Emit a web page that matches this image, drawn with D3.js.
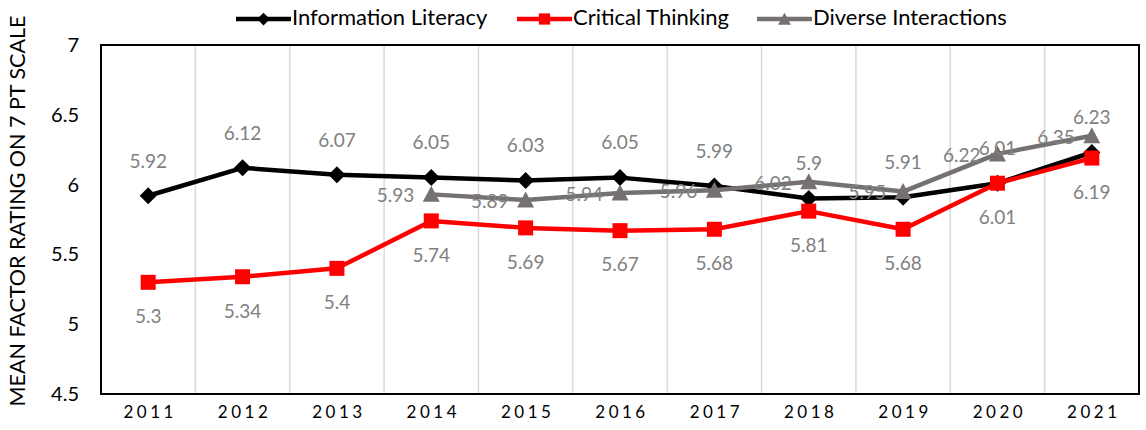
<!DOCTYPE html>
<html>
<head>
<meta charset="utf-8">
<script src="https://cdn.jsdelivr.net/npm/d3@7"></script>
<style>
  body { margin: 0; background: #fff; }
  svg { font-family: Lato, "Open Sans", sans-serif; }
</style>
</head>
<body>
<svg id="chart" width="1146" height="430"></svg>
<script>
// chart data
var years = ["2011","2012","2013","2014","2015","2016","2017","2018","2019","2020","2021"];
var infoLiteracy = [5.92, 6.12, 6.07, 6.05, 6.03, 6.05, 5.99, 5.90, 5.91, 6.01, 6.23];
var criticalThinking = [5.30, 5.34, 5.40, 5.74, 5.69, 5.67, 5.68, 5.81, 5.68, 6.01, 6.19];
var diverseInteractions = [null, null, null, 5.93, 5.89, 5.94, 5.96, 6.02, 5.95, 6.22, 6.35];
var yTicks = [4.5, 5, 5.5, 6, 6.5, 7];

var series = [
  {name: "Information Literacy", values: infoLiteracy, color: "#000000", marker: "diamond", labelPos: "above"},
  {name: "Critical Thinking", values: criticalThinking, color: "#ff0000", marker: "square", labelPos: "below"},
  {name: "Diverse Interactions", values: diverseInteractions, color: "#767171", marker: "triangle", labelPos: "left"}
];

var margin = {top: 45, right: 7, bottom: 36, left: 101};
var width = 1146 - margin.left - margin.right,
    height = 430 - margin.top - margin.bottom;

var svg = d3.select("#chart");
var g = svg.append("g").attr("transform", "translate(" + margin.left + "," + margin.top + ")");

var x = d3.scaleBand().domain(years).range([0, width]);
var y = d3.scaleLinear().domain([4.5, 7]).range([height, 0]);

// vertical gridlines at band edges
g.selectAll("line.grid")
  .data(years.slice(1))
  .enter().append("line")
  .attr("class", "grid")
  .attr("x1", function(d) { return x(d); })
  .attr("x2", function(d) { return x(d); })
  .attr("y1", 0).attr("y2", height)
  .attr("stroke", "#d9d9d9").attr("stroke-width", 1.5);

// plot frame
g.append("rect")
  .attr("x", 0).attr("y", 0).attr("width", width).attr("height", height)
  .attr("fill", "none").attr("stroke", "#000").attr("stroke-width", 2);

// y axis labels
var yAxis = g.append("g").call(d3.axisLeft(y).tickValues(yTicks).tickSize(0).tickPadding(22).tickFormat(d3.format("")));
yAxis.select(".domain").remove();
yAxis.selectAll("text").attr("font-size", 20).attr("fill", "#000").attr("font-family", "Lato, sans-serif");

// x axis labels
var xAxis = g.append("g").attr("transform", "translate(0," + height + ")")
  .call(d3.axisBottom(x).tickSize(0).tickPadding(12));
xAxis.select(".domain").remove();
xAxis.selectAll("text").attr("font-size", 17).attr("fill", "#000")
  .attr("font-family", "Lato, sans-serif").style("letter-spacing", "3.5px")
  .attr("dx", "2px");

// y title
svg.append("text")
  .attr("transform", "translate(25,211) rotate(-90)")
  .attr("text-anchor", "middle")
  .attr("font-size", 21.5)
  .attr("fill", "#000")
  .text("MEAN FACTOR RATING ON 7 PT SCALE");

function markerPath(type) {
  if (type === "diamond") return "M0,-8.5L8.5,0L0,8.5L-8.5,0Z";
  if (type === "square") return "M-7.5,-7.5H7.5V7.5H-7.5Z";
  return "M0,-8.5L8.5,7.5H-8.5Z";
}

var cx = function(i) { return x(years[i]) + x.bandwidth() / 2; };

var line = d3.line()
  .defined(function(d) { return d != null; })
  .x(function(d, i) { return cx(i); })
  .y(function(d) { return y(d); });

series.forEach(function(s) {
  g.append("path")
    .datum(s.values)
    .attr("d", line)
    .attr("fill", "none")
    .attr("stroke", s.color)
    .attr("stroke-width", 4.5)
    .attr("stroke-linejoin", "round");
  g.selectAll(null)
    .data(s.values.map(function(v, i) { return {v: v, i: i}; }).filter(function(d) { return d.v != null; }))
    .enter().append("path")
    .attr("d", markerPath(s.marker))
    .attr("transform", function(d) { return "translate(" + cx(d.i) + "," + y(d.v) + ")"; })
    .attr("fill", s.color);
});

// data labels on top
series.forEach(function(s) {
  g.selectAll(null)
    .data(s.values.map(function(v, i) { return {v: v, i: i}; }).filter(function(d) { return d.v != null; }))
    .enter().append("text")
    .attr("x", function(d) { return s.labelPos === "left" ? cx(d.i) - 17 : cx(d.i); })
    .attr("y", function(d) {
      if (s.labelPos === "above") return y(d.v) - 33;
      if (s.labelPos === "below") return y(d.v) + 36;
      return y(d.v) + 3;
    })
    .attr("text-anchor", s.labelPos === "left" ? "end" : "middle")
    .attr("dominant-baseline", "middle")
    .attr("font-size", 19)
    .attr("fill", "#808080")
    .text(function(d) { return d3.format("")(d.v); });
});

// legend
var legendX = [236, 517, 757];
var legend = svg.append("g");
series.forEach(function(s, i) {
  var lg = legend.append("g").attr("transform", "translate(" + legendX[i] + ",19)");
  lg.append("line").attr("x1", 0).attr("x2", 55).attr("stroke", s.color).attr("stroke-width", 4.5);
  lg.append("path").attr("d", markerPath(s.marker)).attr("transform", "translate(27.5,0) scale(0.75)").attr("fill", s.color);
  lg.append("text").attr("x", 56).attr("dominant-baseline", "middle")
    .attr("font-size", 22).attr("fill", "#000").text(s.name);
});
</script>
</body>
</html>
